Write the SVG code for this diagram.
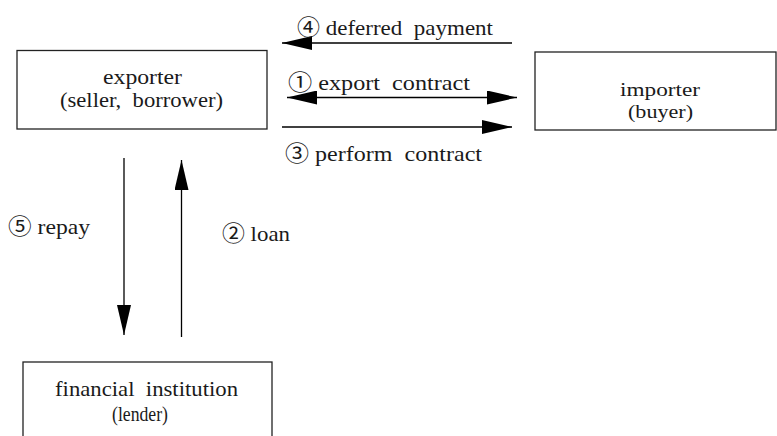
<svg xmlns="http://www.w3.org/2000/svg" width="777" height="436" viewBox="0 0 777 436">
<style>
.box{fill:#fff;stroke:#222;stroke-width:1.3}
.t{font-family:"Liberation Serif","Times New Roman",Tinos,"Noto Sans CJK SC",serif;font-size:22px;fill:#1a1a1a;white-space:pre}
.s{font-size:19px}
.c{stroke:#000;stroke-width:1.3;fill:none}
</style>
<defs>
<marker id="ah" markerUnits="userSpaceOnUse" markerWidth="30" markerHeight="14" refX="30" refY="7" orient="auto-start-reverse" viewBox="0 0 30 14">
<path d="M0,0 L30,7 L0,14 z" fill="#000"/>
</marker>
</defs>
<rect width="777" height="436" fill="#fff"/>
<g id="exporter">
<rect class="box" x="17" y="50.5" width="250" height="78.5"/>
<text class="t" x="103" y="84" textLength="79" lengthAdjust="spacingAndGlyphs">exporter</text>
<text class="t" x="60" y="107" textLength="163" lengthAdjust="spacingAndGlyphs">(seller,  borrower)</text>
</g>
<g id="importer">
<rect class="box" x="535" y="52" width="241" height="78"/>
<text class="t s" x="620" y="96" textLength="80" lengthAdjust="spacingAndGlyphs">importer</text>
<text class="t s" x="628" y="117.5" textLength="65" lengthAdjust="spacingAndGlyphs">(buyer)</text>
</g>
<g id="financial">
<rect class="box" x="23" y="362" width="249" height="90"/>
<text class="t" x="55" y="396" textLength="183" lengthAdjust="spacingAndGlyphs">financial  institution</text>
<text class="t" x="112" y="421" textLength="56" lengthAdjust="spacingAndGlyphs">(lender)</text>
</g>
<g id="connectors">
<line class="c" x1="512" y1="43" x2="282" y2="43" marker-end="url(#ah)"/>
<line class="c" x1="287" y1="97.5" x2="517" y2="97.5" marker-start="url(#ah)" marker-end="url(#ah)"/>
<line class="c" x1="282" y1="127" x2="512" y2="127" marker-end="url(#ah)"/>
<line class="c" x1="124" y1="158" x2="124" y2="335" marker-end="url(#ah)"/>
<line class="c" x1="181.5" y1="337" x2="181.5" y2="160" marker-end="url(#ah)"/>
</g>
<g id="labels">
<text class="t" x="297" y="35" textLength="196" lengthAdjust="spacingAndGlyphs">④ deferred  payment</text>
<text class="t" x="288" y="90" textLength="182" lengthAdjust="spacingAndGlyphs">① export  contract</text>
<text class="t" x="285" y="161" textLength="197" lengthAdjust="spacingAndGlyphs">③ perform  contract</text>
<text class="t" x="8" y="234" textLength="82" lengthAdjust="spacingAndGlyphs">⑤ repay</text>
<text class="t" x="222" y="241" textLength="68" lengthAdjust="spacingAndGlyphs">② loan</text>
</g>
</svg>
